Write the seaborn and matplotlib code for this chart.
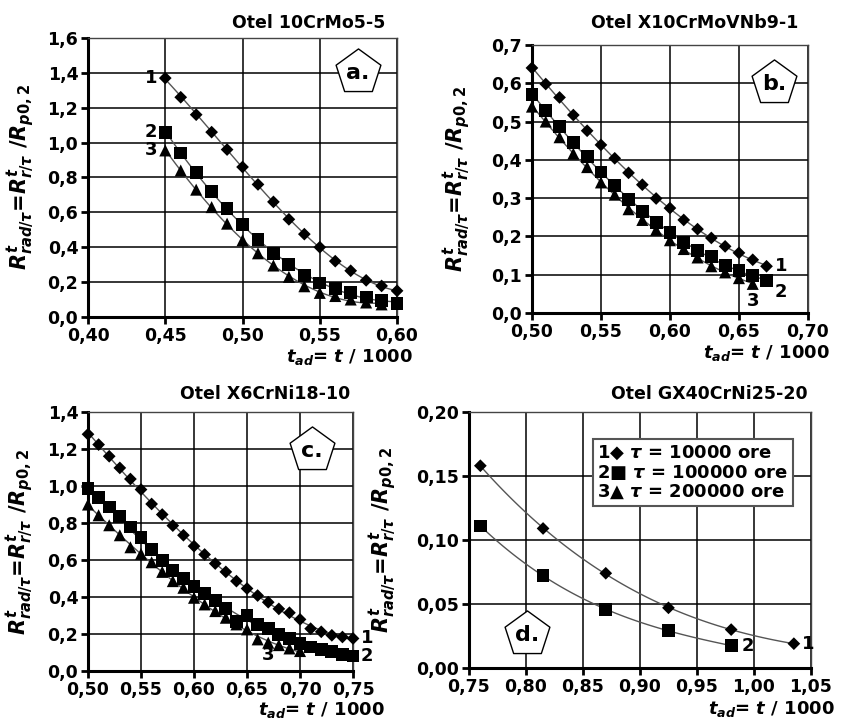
import numpy as np
import pandas as pd
import seaborn as sns
import matplotlib
matplotlib.use("Agg")
import matplotlib.pyplot as plt
from matplotlib.ticker import FuncFormatter, MultipleLocator

# panel a: Otel 10CrMo5-5
a_t = [0.45, 0.46, 0.47, 0.48, 0.49, 0.50, 0.51, 0.52, 0.53, 0.54, 0.55, 0.56, 0.57, 0.58, 0.59, 0.60]
a_r1 = [1.37, 1.26, 1.16, 1.06, 0.96, 0.86, 0.76, 0.66, 0.56, 0.475, 0.40, 0.32, 0.265, 0.21, 0.178, 0.15]
a_r2 = [1.06, 0.94, 0.83, 0.72, 0.62, 0.53, 0.445, 0.365, 0.30, 0.24, 0.195, 0.163, 0.138, 0.115, 0.096, 0.078]
a_r3 = [0.955, 0.84, 0.73, 0.63, 0.535, 0.44, 0.365, 0.295, 0.23, 0.176, 0.138, 0.12, 0.10, 0.083, 0.072]

# panel b: Otel X10CrMoVNb9-1
b_t = [0.50, 0.51, 0.52, 0.53, 0.54, 0.55, 0.56, 0.57, 0.58, 0.59, 0.60, 0.61, 0.62, 0.63, 0.64, 0.65, 0.66, 0.67]
b_r1 = [0.64, 0.598, 0.563, 0.517, 0.476, 0.439, 0.404, 0.366, 0.335, 0.299, 0.274, 0.243, 0.219, 0.196, 0.174, 0.157, 0.139, 0.122]
b_r2 = [0.571, 0.529, 0.487, 0.445, 0.409, 0.368, 0.333, 0.297, 0.265, 0.237, 0.211, 0.185, 0.163, 0.148, 0.124, 0.111, 0.097, 0.084]
b_r3 = [0.539, 0.50, 0.459, 0.416, 0.381, 0.341, 0.309, 0.271, 0.243, 0.217, 0.19, 0.167, 0.145, 0.122, 0.106, 0.091, 0.076]

# panel c: Otel X6CrNi18-10
c_t = [0.50, 0.51, 0.52, 0.53, 0.54, 0.55, 0.56, 0.57, 0.58, 0.59, 0.60, 0.61, 0.62,
       0.63, 0.64, 0.65, 0.66, 0.67, 0.68, 0.69, 0.70, 0.71, 0.72, 0.73, 0.74, 0.75]
c_r1 = [1.28, 1.224, 1.161, 1.098, 1.038, 0.981, 0.903, 0.846, 0.786, 0.734, 0.675, 0.63, 0.581,
        0.536, 0.486, 0.446, 0.408, 0.372, 0.336, 0.315, 0.279, 0.229, 0.212, 0.193, 0.184, 0.176]
c_r2 = [0.986, 0.936, 0.887, 0.837, 0.779, 0.723, 0.657, 0.599, 0.543, 0.50, 0.459, 0.419, 0.382,
        0.338, 0.266, 0.302, 0.252, 0.229, 0.198, 0.175, 0.148, 0.13, 0.117, 0.104, 0.09, 0.081]
c_r3 = [0.90, 0.842, 0.788, 0.734, 0.669, 0.633, 0.588, 0.536, 0.486, 0.45, 0.396, 0.36, 0.324,
        0.288, 0.252, 0.225, 0.171, 0.153, 0.14, 0.122, 0.108]

# panel d: Otel GX40CrNi25-20
d_t = [0.76, 0.815, 0.87, 0.925, 0.98, 1.035]
d_r1 = [0.158, 0.109, 0.074, 0.047, 0.030, 0.019]
d_r2 = [0.111, 0.072, 0.046, 0.029, 0.0175]

titles = ["Otel 10CrMo5-5", "Otel X10CrMoVNb9-1", "Otel X6CrNi18-10", "Otel GX40CrNi25-20"]
legend_labels = ["10000", "100000", "200000"]

sns.set_style("white")
plt.rcParams['font.family'] = ['DejaVu Sans']
plt.rcParams['font.weight'] = 'bold'
plt.rcParams['text.color'] = 'black'
plt.rcParams['axes.labelcolor'] = 'black'
plt.rcParams['xtick.color'] = 'black'
plt.rcParams['ytick.color'] = 'black'
plt.rcParams['mathtext.fontset'] = 'custom'
plt.rcParams['mathtext.rm'] = 'DejaVu Sans:bold'
plt.rcParams['mathtext.it'] = 'DejaVu Sans:italic:bold'
plt.rcParams['mathtext.bf'] = 'DejaVu Sans:bold'


def make_df(t, series):
    rows = []
    for name, vals in series.items():
        for x, y in zip(t, vals):
            rows.append({"t": x, "r": y, "serie": name})
    return pd.DataFrame(rows)


def draw_panel(ax, df, xlim, xstep, ylim, ystep, ydec, xdec):
    for name, sub in df.groupby("serie"):
        sns.regplot(data=sub, x="t", y="r", order=3, scatter=False, ci=None,
                    color="#555555", line_kws={"lw": 1.0, "zorder": 2}, ax=ax)
    sns.scatterplot(data=df, x="t", y="r", style="serie", size="serie",
                    markers={"1": "D", "2": "s", "3": "^"},
                    sizes={"1": 42, "2": 85, "3": 75},
                    color="black", linewidth=0, legend=False, zorder=3,
                    clip_on=False, ax=ax)
    ax.set_xlim(xlim)
    ax.set_ylim(ylim)
    ax.xaxis.set_major_locator(MultipleLocator(xstep))
    ax.yaxis.set_major_locator(MultipleLocator(ystep))
    ax.xaxis.set_major_formatter(FuncFormatter(lambda v, p: f"{v:.{xdec}f}".replace('.', ',')))
    ax.yaxis.set_major_formatter(FuncFormatter(lambda v, p: f"{v:.{ydec}f}".replace('.', ',')))
    ax.grid(True, color="black", lw=1.1, zorder=0)
    ax.set_axisbelow(True)
    ax.tick_params(axis="both", labelsize=12.5, direction="out", length=5, width=2,
                   bottom=True, left=True, pad=2)
    for s in ["left", "bottom"]:
        ax.spines[s].set_linewidth(2.2)
        ax.spines[s].set_color("black")
    for s in ["top", "right"]:
        ax.spines[s].set_linewidth(1.0)
        ax.spines[s].set_color("#444444")
    ax.set_xlabel("")
    ax.set_ylabel(r"$R^{t}_{rad/\tau}$=$R^{t}_{r/\tau}$ /$R_{p0,2}$", fontsize=15, fontweight="bold")


def pentagon(ax, x, y, letter):
    ax.scatter([x], [y], transform=ax.transAxes, marker="p", s=1150, facecolor="white",
               edgecolor="black", linewidth=1.0, zorder=5, clip_on=False)
    ax.text(x, y - 0.005, letter, transform=ax.transAxes, ha="center", va="center",
            fontsize=16, fontweight="bold", zorder=6)


def xlab(ax, x, y):
    ax.text(x, y, r"$t_{ad}$= $t$ / 1000", transform=ax.transAxes, ha="right", va="center",
            fontsize=13, fontweight="bold")


fig = plt.figure(figsize=(8.43, 7.22), dpi=100)
ax_a = fig.add_axes([0.1044, 0.561, 0.3666, 0.3864])
ax_b = fig.add_axes([0.631, 0.5665, 0.3274, 0.3712])
ax_c = fig.add_axes([0.1044, 0.0706, 0.3144, 0.3587])
ax_d = fig.add_axes([0.5563, 0.0748, 0.4057, 0.3546])

# a
draw_panel(ax_a, make_df(a_t, {"1": a_r1, "2": a_r2, "3": a_r3}), (0.40, 0.60), 0.05, (0, 1.6), 0.2, 1, 2)
for lab, vals in zip(["1", "2", "3"], [a_r1, a_r2, a_r3]):
    ax_a.text(a_t[0] - 0.005, vals[0], lab, ha="right", va="center", fontsize=13, fontweight="bold")
ax_a.text(0.961, 1.055, titles[0], transform=ax_a.transAxes, ha="right", va="center", fontsize=12.5, fontweight="bold")
pentagon(ax_a, 0.874, 0.878, "a.")
ax_a.yaxis.set_label_coords(-0.165, 0.5)
xlab(ax_a, 1.05, -0.145)

# b
draw_panel(ax_b, make_df(b_t, {"1": b_r1, "2": b_r2, "3": b_r3}), (0.50, 0.70), 0.05, (0, 0.7), 0.1, 1, 2)
ax_b.text(b_t[-1] + 0.006, b_r1[-1], "1", ha="left", va="center", fontsize=13, fontweight="bold")
ax_b.text(b_t[-1] + 0.006, b_r2[-1] - 0.03, "2", ha="left", va="center", fontsize=13, fontweight="bold")
ax_b.text(b_t[len(b_r3) - 1], b_r3[-1] - 0.045, "3", ha="center", va="center", fontsize=13, fontweight="bold")
ax_b.text(0.964, 1.082, titles[1], transform=ax_b.transAxes, ha="right", va="center", fontsize=12.5, fontweight="bold")
pentagon(ax_b, 0.877, 0.858, "b.")
ax_b.yaxis.set_label_coords(-0.215, 0.5)
xlab(ax_b, 1.08, -0.15)

# c
draw_panel(ax_c, make_df(c_t, {"1": c_r1, "2": c_r2, "3": c_r3}), (0.50, 0.75), 0.05, (0, 1.4), 0.2, 1, 2)
ax_c.text(c_t[-1] + 0.007, c_r1[-1], "1", ha="left", va="center", fontsize=13, fontweight="bold")
ax_c.text(c_t[-1] + 0.007, c_r2[-1], "2", ha="left", va="center", fontsize=13, fontweight="bold")
ax_c.text(0.67, 0.085, "3", ha="center", va="center", fontsize=13, fontweight="bold")
ax_c.text(0.989, 1.069, titles[2], transform=ax_c.transAxes, ha="right", va="center", fontsize=12.5, fontweight="bold")
pentagon(ax_c, 0.845, 0.853, "c.")
ax_c.yaxis.set_label_coords(-0.195, 0.5)
xlab(ax_c, 1.12, -0.152)

# d
draw_panel(ax_d, make_df(d_t, {"1": d_r1, "2": d_r2}), (0.75, 1.05), 0.05, (0, 0.20), 0.05, 2, 2)
ax_d.text(d_t[-1] + 0.007, d_r1[-1], "1", ha="left", va="center", fontsize=13, fontweight="bold")
ax_d.text(d_t[len(d_r2) - 1] + 0.009, d_r2[-1], "2", ha="left", va="center", fontsize=13, fontweight="bold")
ax_d.text(0.991, 1.07, titles[3], transform=ax_d.transAxes, ha="right", va="center", fontsize=12.5, fontweight="bold")
pentagon(ax_d, 0.17, 0.133, "d.")
ax_d.yaxis.set_label_coords(-0.205, 0.5)
xlab(ax_d, 1.07, -0.16)
leg_text = "\n".join(f"{i}{m} $\\tau$ = {v} ore" for i, m, v in
                     zip(["1", "2", "3"], ["\u25c6", "\u25a0", "\u25b2"], legend_labels))
ax_d.text(0.375, 0.875, leg_text, transform=ax_d.transAxes, ha="left", va="top",
          fontsize=13, fontweight="bold", linespacing=1.05, zorder=6,
          bbox=dict(boxstyle="square,pad=0.25", fc="white", ec="#555555", lw=1.5))

fig.savefig("out.png", dpi=100)
